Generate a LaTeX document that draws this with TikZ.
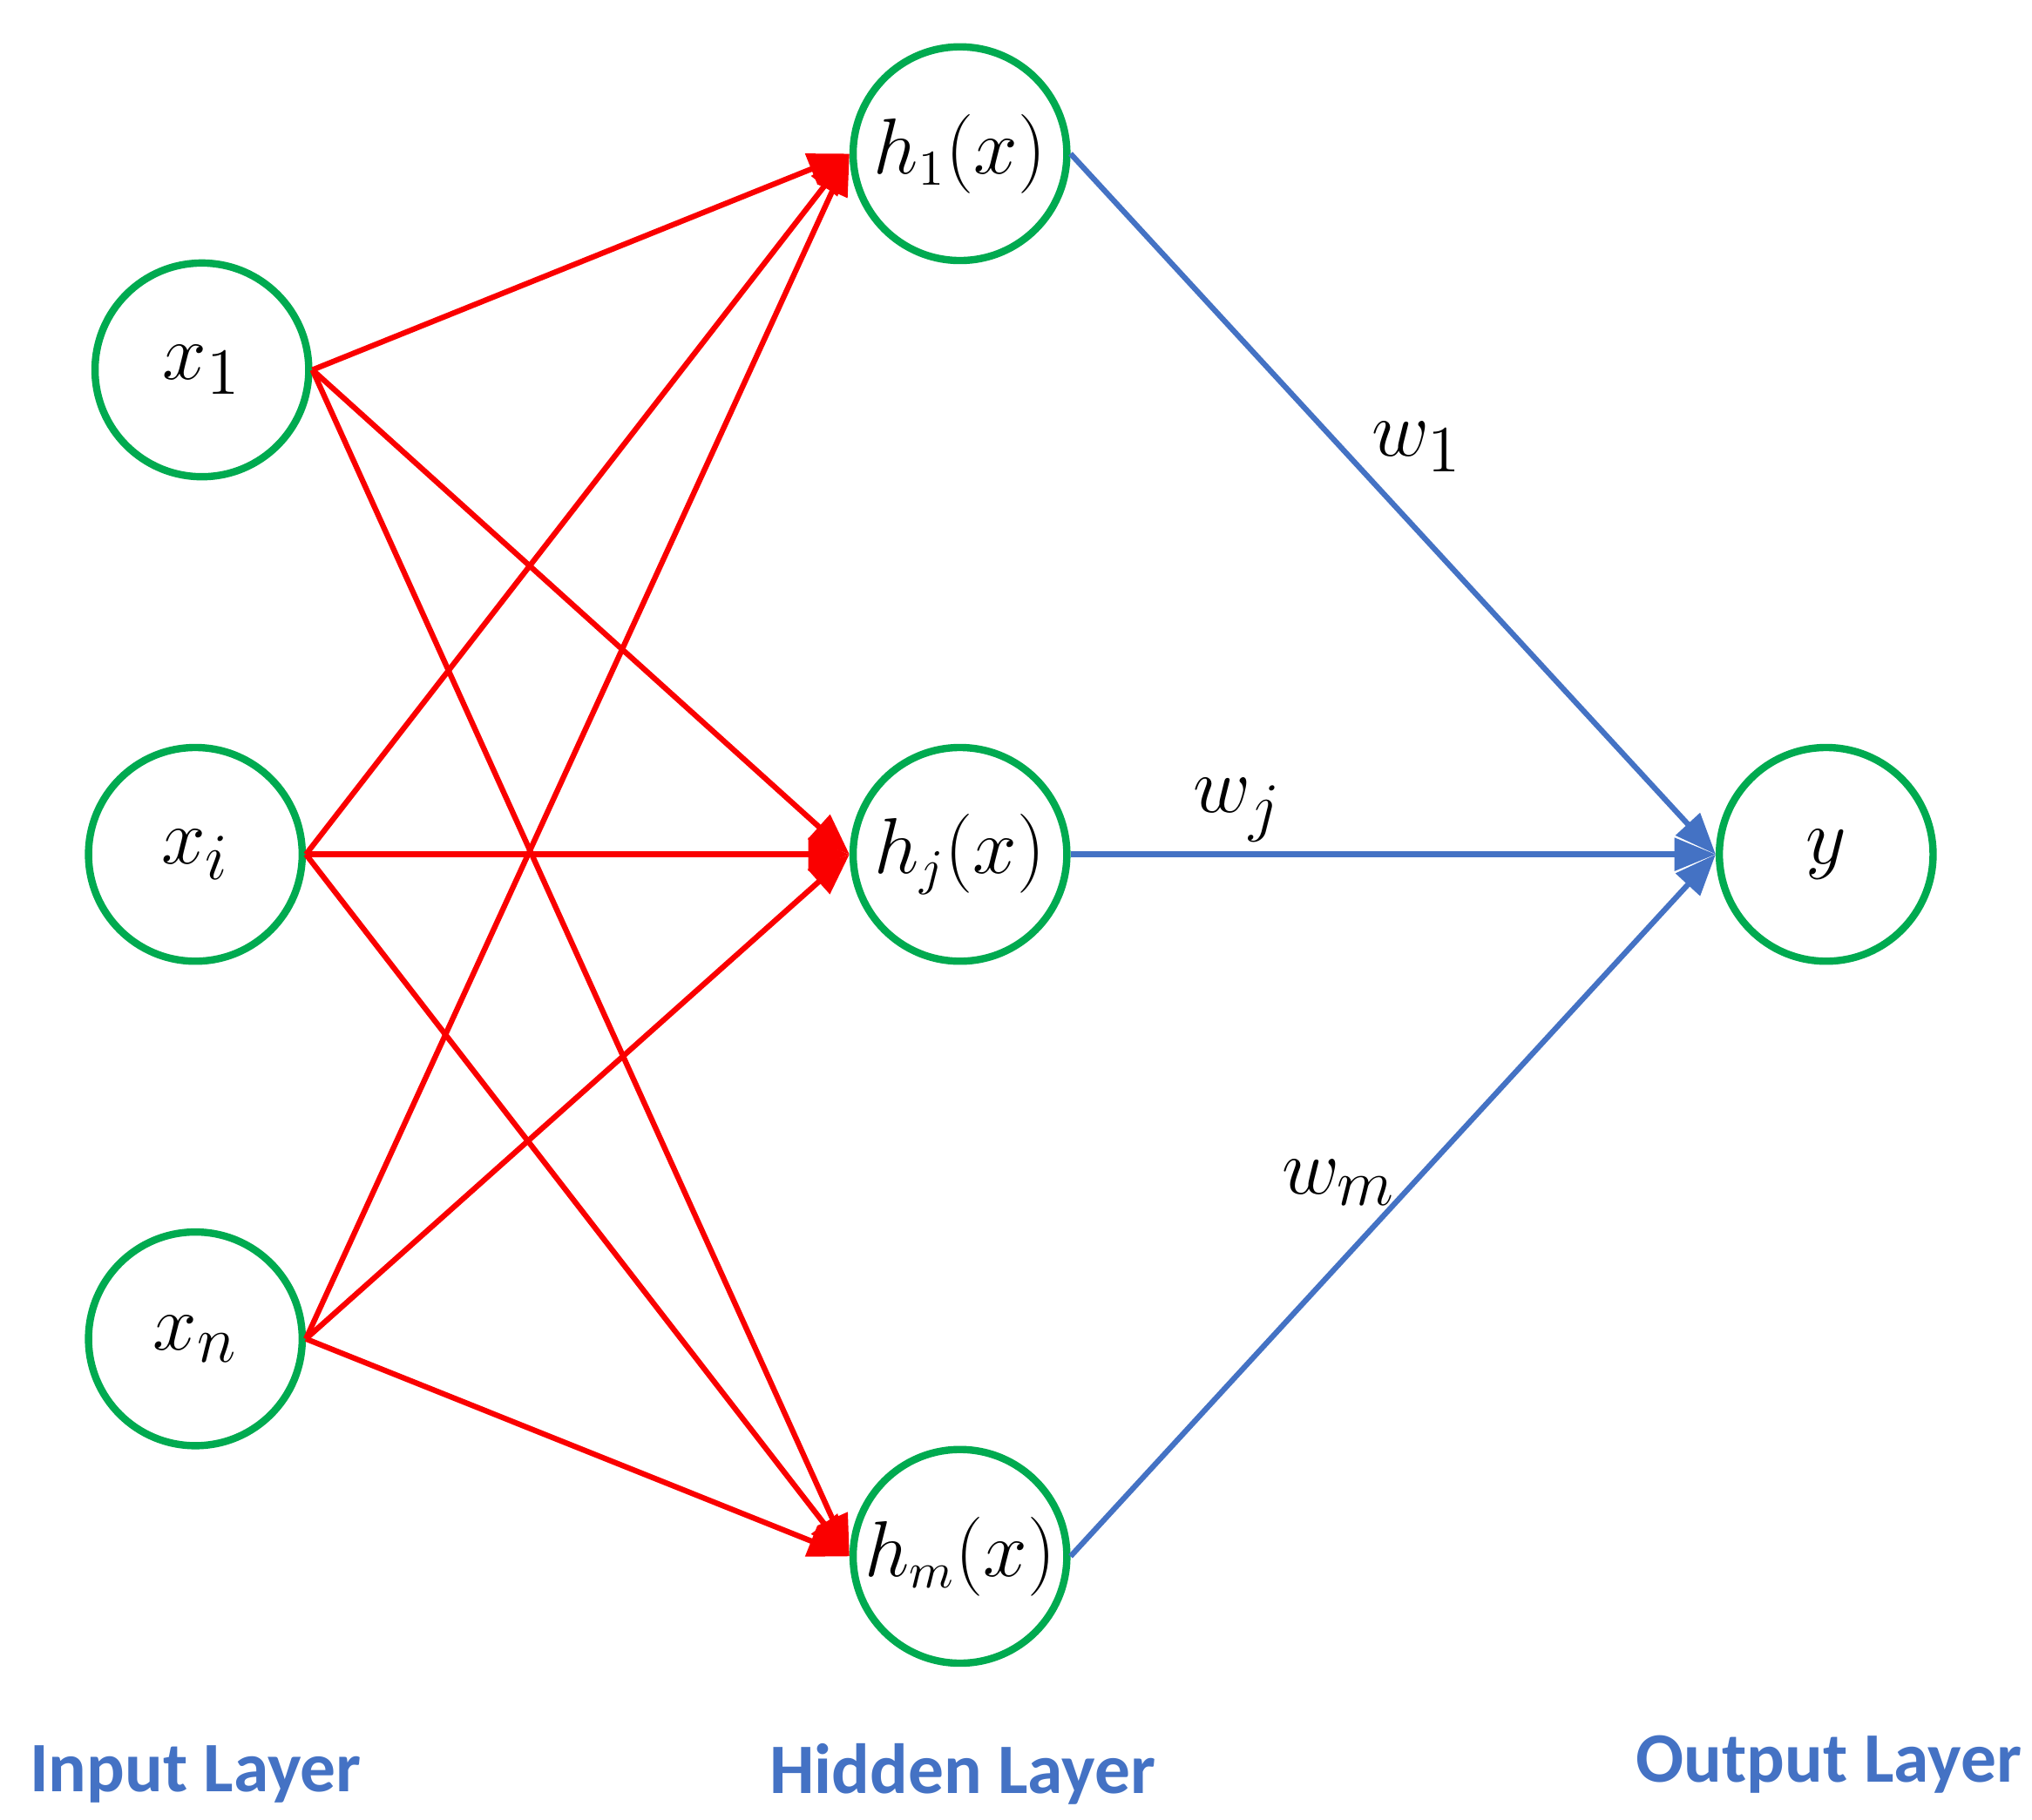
\documentclass[tikz,border=0pt]{standalone}
\usepackage{fontspec}
\newfontfamily\lab{Carlito}
\usetikzlibrary{arrows.meta}
\definecolor{cg}{RGB}{0,170,80}
\definecolor{cb}{RGB}{68,114,196}
\definecolor{cr}{RGB}{250,0,0}
\begin{document}
\begin{tikzpicture}[x=0.01cm,y=-0.01cm,
  neu/.style={circle,draw=cg,line width=1.6pt,minimum size=1.64cm,inner sep=0pt,font=\fontsize{19}{22}\selectfont},
  hid/.style={neu,font=\fontsize{16}{19}\selectfont},
  red/.style={draw=cr,line width=1.2pt,-{Triangle[length=9pt,width=7pt]}},
  blue/.style={draw=cb,line width=1.2pt,-{Triangle[length=9pt,width=7pt]}},
  lay/.style={font=\lab\bfseries\fontsize{15.5}{19}\selectfont,text=cb},
  wl/.style={font=\fontsize{19}{22}\selectfont}]
\useasboundingbox (0,0) rectangle (1560,1397);
\node[neu] (x1) at (155,284) {$x_1$};
\node[neu] (xi) at (150,656) {$x_i$};
\node[neu] (xn) at (150,1028) {$x_n$};
\node[hid] (h1) at (737,118) {$h_1(x)$};
\node[hid] (hj) at (737,656) {$h_j(x)$};
\node[hid] (hm) at (737,1195) {$h_m(x)$};
\node[neu] (y) at (1402,656) {$y$};
\foreach \s in {x1,xi,xn}{\foreach \t in {h1,hj,hm}{\draw[red] (\s.east) -- (\t.west);}}
\foreach \t in {h1,hj,hm}{\draw[blue] (\t.east) -- (y.west);}
\node[wl] (w1) at (1088,343) {$w_1$};
\node[wl] (wj) at (950,622) {$w_j$};
\node[wl] (wm) at (1028,908) {$w_m$};
\node[lay] (li) at (150,1362) {Input Layer};
\node[lay] (lh) at (739,1362) {Hidden Layer};
\node[lay] (lo) at (1404,1355) {Output Layer};
\end{tikzpicture}
\end{document}
